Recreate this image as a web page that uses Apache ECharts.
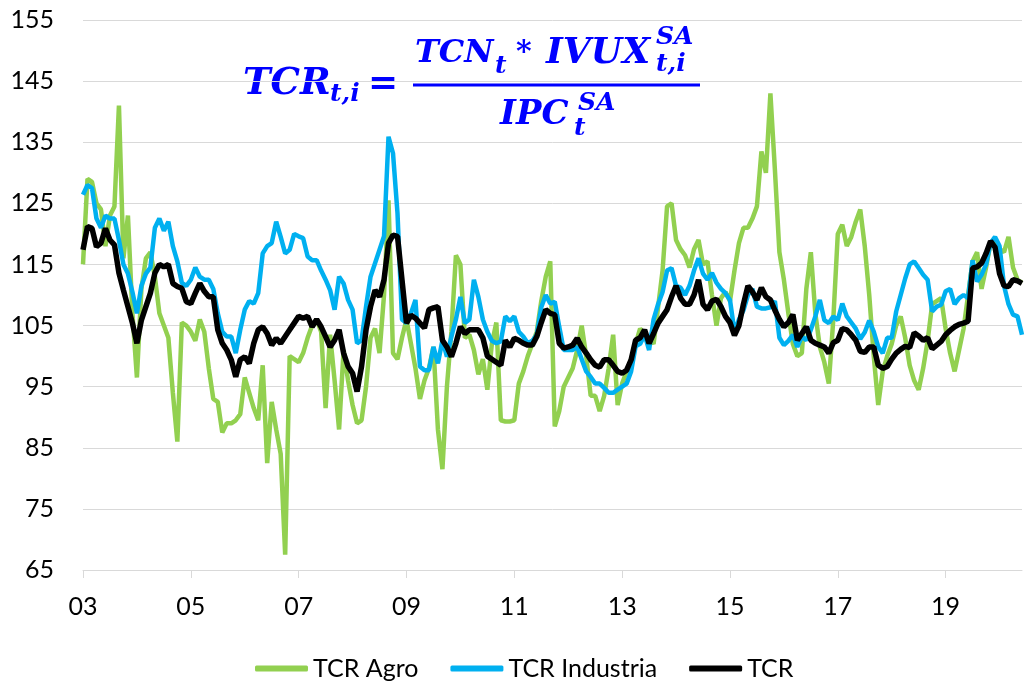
<!DOCTYPE html>
<html>
<head>
<meta charset="utf-8">
<script src="https://cdn.jsdelivr.net/npm/echarts@6/dist/echarts.min.js"></script>
<style>
  html, body { margin: 0; padding: 0; background: #fff; }
  #chart { width: 1026px; height: 683px; }
</style>
</head>
<body>
<div id="chart"></div>
<script>
// Monthly real exchange rate indices, Jan 2003 onwards
const startYear = 2003;
const nMonths = 210;

const tickLabels = ['03', '05', '07', '09', '11', '13', '15', '17', '19'];

const tcrAgro = [
  115, 129, 128.5, 125, 124, 118, 123, 124.5, 141, 116,
  123, 107, 96.5, 111, 116, 117, 113, 107, 105, 103,
  94, 86, 105.5, 105, 104, 102.5, 106, 104, 98, 93,
  92.5, 87.5, 89, 89, 89.5, 90.5, 96.5, 94, 91.5, 89.5,
  98.5, 82.5, 92.5, 88, 84, 67.5, 100, 99.5, 99, 100.5,
  103, 105, 106, 104, 91.5, 103.5, 96, 88, 101, 96,
  92, 89, 89.5, 95, 103, 104.5, 100.5, 110, 125.5, 100.5,
  99.5, 103, 106, 102, 98, 93, 96, 98, 101.5, 88,
  81.5, 95, 104, 116.5, 115, 103, 103.5, 101, 97, 99.5,
  94.5, 102, 105.5, 89.5, 89.3, 89.3, 89.5, 95.5, 97.5, 100,
  102, 104, 109, 113, 115.5, 88.5, 91, 95, 96.5, 98,
  101, 105, 100, 93.5, 93.5, 91, 93.5, 98, 103.5, 92,
  95.5, 97.5, 99.5, 102, 104.5, 103.5, 103, 102, 108, 114,
  124.5, 125, 119, 117.5, 116.5, 114.5, 117.5, 119, 115, 115.5,
  110, 105, 109.5, 110.5, 109, 114, 118.5, 121, 121, 122.5,
  124.5, 133.5, 130, 143, 130.5, 117, 112.5, 107, 102, 100,
  100.5, 111, 117, 107, 101.5, 99, 95.5, 106, 120, 121.5,
  118, 119.5, 122, 124, 118, 110, 100, 92, 97.5, 100,
  102, 105, 106.5, 103, 98.5, 96, 94.5, 98, 102.5, 108.5,
  109, 109.5, 104.5, 100.5, 97.5, 101, 104.5, 110, 115.5, 117,
  111, 114.5, 118.5, 119, 117.5, 117, 119.5, 114.5, 112.5, 112
];

const tcrIndustria = [
  126.4, 128, 127.5, 122.5, 121, 123, 122.5, 122.5, 119, 115,
  113.5, 110.5, 107, 111.5, 113.5, 114.5, 121, 122.5, 120.5, 122,
  118, 115.5, 112, 111.5, 112.5, 114.5, 113, 112.5, 112.5, 111,
  107, 104, 103.2, 103.2, 100.5, 104.3, 107.6, 109, 108.6, 110.3,
  116.8, 118, 118.5, 122, 119.5, 116.8, 117.4, 120, 119.6, 119.3,
  116.3, 115.7, 115.7, 114, 112.5, 110.8, 107.6, 113, 111.9, 109.2,
  107.6, 102.1, 102.6, 108.1, 113, 115.2, 117.4, 119.6, 135.9, 133.2,
  123.4, 106, 105.4, 107, 109.2, 98.3, 97.7, 97.7, 101.5, 98.8,
  102.6, 99.9, 103.2, 106, 109.7, 105.4, 106, 112.5, 109.7, 106,
  104, 102.5, 102.1, 102.4, 106.5, 105.7, 106.5, 104, 103.2, 102.1,
  102.5, 103.5, 108, 110, 108.6, 108.9, 104.8, 101, 101, 101,
  101.5, 99.5, 97.5, 96.6, 95.5, 95.5, 94.8, 94, 94, 94.5,
  95, 95.5, 97.5, 101.6, 102, 103.5, 101, 106, 108.5, 110.5,
  114, 114.4, 111.5, 111.2, 110, 111.5, 114, 116, 113.5, 112.5,
  113.6, 112, 111, 110.3, 109.2, 104, 106, 107.5, 110, 111,
  108.1, 107.8, 107.8, 108, 109, 103, 101.8, 102.5, 103.5, 101.5,
  103.2, 102.6, 104.3, 106.5, 109.2, 105.9, 105.4, 106.5, 105.9, 108.6,
  106.5, 105.5, 104.5, 102.8, 103.9, 105.8, 104, 101.5, 100.5, 103,
  103, 107.3, 110, 112.7, 115, 115.5, 114.4, 113.3, 112.5, 107.3,
  108.1, 108.4, 110.6, 111, 108.5, 109.5, 110, 109.5, 115.7, 112.2,
  113.3, 115, 118.5, 119.5, 118, 111.5, 108.5, 106.8, 106.5, 103.5
];

const tcr = [
  117.4, 121.2, 120.9, 117.9, 118.5, 120.9, 119, 118.2, 113.6, 110.8,
  108.1, 105.4, 102.1, 105.9, 108.1, 110.3, 113.6, 115, 114.6, 115,
  111.9, 111.4, 111.1, 108.9, 108.6, 110.3, 111.9, 110.6, 109.7, 109.7,
  104.3, 102.1, 101, 99.4, 96.6, 99.4, 99.9, 98.8, 102.1, 104.3,
  104.8, 103.7, 101.8, 102.9, 102.1, 103.2, 104.3, 105.4, 106.5, 106.2,
  106.5, 104.8, 106, 104.8, 103.2, 101.5, 102.6, 104.3, 100.5, 98.3,
  97.2, 94.2, 98.3, 104.3, 108.1, 110.8, 109.7, 112.5, 118.5, 119.8,
  119.6, 112.5, 105.4, 106.7, 106.2, 105.4, 104.6, 107.6, 107.9, 108.1,
  102.6, 101.5, 99.9, 102.1, 104.8, 103.7, 104.3, 104.3, 104.3, 103,
  100, 99.5, 99, 98.5, 102.6, 101.5, 102.9, 102.6, 102.1, 101.8,
  101.8, 103.2, 105.5, 107.6, 107, 106.8, 102.1, 101.3, 101.5, 101.8,
  102.9, 101.5, 100.5, 99.4, 98.5, 98.2, 99.4, 99.4, 98.5, 97.5,
  97.2, 97.7, 99.4, 102.6, 103, 104.3, 102.1, 103.7, 105.4, 106.5,
  107.6, 109.7, 111.5, 109.5, 108.5, 108.5, 110, 112.5, 108.5, 107.6,
  109, 109.3, 108.1, 106.5, 105.5, 103.4, 105, 108.5, 111.5, 110.5,
  109.2, 111.2, 109.7, 109.2, 107.5, 106, 104.8, 105.5, 106.8, 102.6,
  103.7, 104.8, 102.6, 102.1, 101.8, 101.5, 100.5, 102.2, 102.6, 104.5,
  104.3, 103.5, 102.6, 100.8, 100.6, 101.5, 101.5, 98.5, 98, 98.3,
  99.5, 100.5, 101.1, 101.6, 101.4, 103.8, 103.3, 102.6, 103, 101.2,
  101.8, 102.4, 103.5, 104.2, 104.8, 105.2, 105.4, 105.7, 114.4, 114.6,
  115.2, 116.8, 118.8, 117.8, 113.5, 111.5, 111.4, 112.5, 112.3, 111.9
];

// Month categories "YYYY-MM"
const months = [];
for (let i = 0; i < nMonths; i++) {
  const y = startYear + Math.floor(i / 12);
  const m = (i % 12) + 1;
  months.push(y + '-' + (m < 10 ? '0' + m : m));
}

const uiFont = 'Lato, "Open Sans", sans-serif';
const mathFont = '"DejaVu Serif", "Liberation Serif", serif';
const blue = '#0000FF';
const everyTwoYears = (idx) => idx % 24 === 0;

function mathText(x, y, text, size) {
  return {
    type: 'text', x: x, y: y, silent: true,
    style: {
      text: text,
      font: 'italic bold ' + size + 'px ' + mathFont,
      fill: blue,
      textAlign: 'left',
      textVerticalAlign: 'middle'
    }
  };
}

const chart = echarts.init(document.getElementById('chart'), null, { renderer: 'canvas' });

chart.setOption({
  animation: false,
  backgroundColor: '#ffffff',
  grid: { left: 83, right: 4, top: 20, bottom: 113, containLabel: false },
  legend: {
    left: 250,
    top: 651,
    itemWidth: 53,
    itemHeight: 6,
    itemGap: 32,
    icon: 'roundRect',
    textStyle: { fontFamily: uiFont, fontSize: 25, color: '#000' },
    data: ['TCR Agro', 'TCR Industria', 'TCR']
  },
  xAxis: {
    type: 'category',
    data: months,
    boundaryGap: false,
    axisLine: { lineStyle: { color: '#D9D9D9', width: 1 } },
    axisTick: { show: true, interval: (idx) => everyTwoYears(idx), length: 8, lineStyle: { color: '#D9D9D9' } },
    axisLabel: {
      interval: (idx) => everyTwoYears(idx),
      formatter: (val, idx) => tickLabels[idx / 24] || '',
      margin: 24,
      fontFamily: uiFont, fontSize: 25, color: '#000'
    },
    splitLine: { show: false }
  },
  yAxis: {
    type: 'value',
    min: 65, max: 155, interval: 10,
    axisLine: { show: false },
    axisTick: { show: false },
    axisLabel: { margin: 29, fontFamily: uiFont, fontSize: 25, color: '#000' },
    splitLine: { lineStyle: { color: '#D9D9D9', width: 1 } }
  },
  series: [
    { name: 'TCR Agro', type: 'line', data: tcrAgro, showSymbol: false, color: '#92D050',
      lineStyle: { width: 4.5, color: '#92D050' }, z: 2 },
    { name: 'TCR Industria', type: 'line', data: tcrIndustria, showSymbol: false, color: '#00B0F0',
      lineStyle: { width: 4.5, color: '#00B0F0' }, z: 3 },
    { name: 'TCR', type: 'line', data: tcr, showSymbol: false, color: '#000000',
      lineStyle: { width: 5.5, color: '#000000' }, z: 4 }
  ],
  graphic: [
    // TCR_{t,i} = TCN_t * IVUX^{SA}_{t,i} / IPC^{SA}_t
    mathText(243, 84, 'TCR', 37),
    mathText(330, 94, 't,i', 25),
    mathText(368, 85, '=', 36),
    {
      type: 'line', silent: true,
      shape: { x1: 413, y1: 85, x2: 700, y2: 85 },
      style: { stroke: blue, lineWidth: 3 }
    },
    mathText(415, 54, 'TCN', 32),
    mathText(495, 66, 't', 25),
    mathText(516, 53, '*', 30),
    mathText(546, 54, 'IVUX', 36),
    mathText(656, 37, 'SA', 25),
    mathText(656, 64, 't,i', 25),
    mathText(500, 115, 'IPC', 34),
    mathText(578, 103, 'SA', 25),
    mathText(574, 128, 't', 25)
  ]
});
</script>
</body>
</html>
